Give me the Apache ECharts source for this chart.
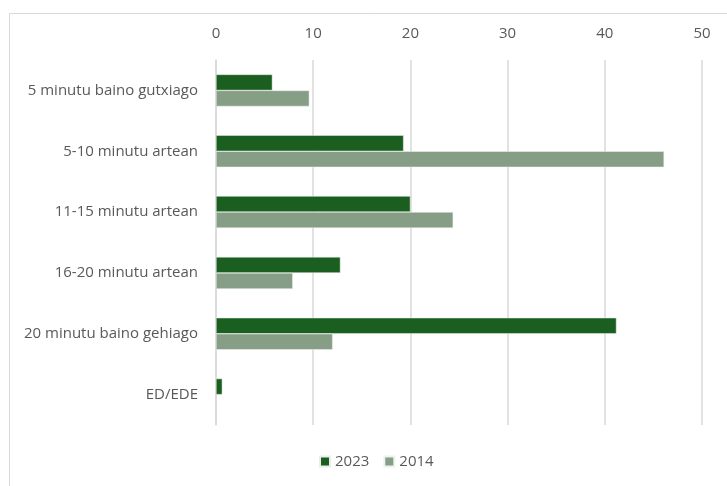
<!DOCTYPE html>
<html>
<head>
<meta charset="utf-8">
<script src="https://cdn.jsdelivr.net/npm/echarts@6/dist/echarts.min.js"></script>
<style>
  html, body { margin: 0; padding: 0; background: #fff; }
  #chart { width: 727px; height: 486px; }
</style>
</head>
<body>
<div id="chart"></div>
<script>
// Travel time categories (top to bottom)
const categories = [
  '5 minutu baino gutxiago',
  '5-10 minutu artean',
  '11-15 minutu artean',
  '16-20 minutu artean',
  '20 minutu baino gehiago',
  'ED/EDE'
];
// Percentages per year
const values2023 = [5.8, 19.3, 20.0, 12.8, 41.2, 0.65];
const values2014 = [9.6, 46.1, 24.4, 7.9, 12.0, null];
const seriesNames = ['2023', '2014'];

const textColor = '#595959';
const fontFamily = '"Open Sans", "Noto Sans", sans-serif';
const fontSize = 15;

const chart = echarts.init(document.getElementById('chart'), null, { renderer: 'canvas' });
chart.setOption({
  animation: false,
  backgroundColor: '#ffffff',
  textStyle: { fontFamily: fontFamily },
  graphic: [{
    type: 'rect',
    shape: { x: 9.5, y: 13.5, width: 760, height: 520 },
    style: { fill: 'none', stroke: '#d9d9d9', lineWidth: 1 },
    silent: true,
    z: -1
  }],
  legend: {
    data: seriesNames,
    bottom: 12,
    left: 314,
    itemWidth: 10,
    itemHeight: 10,
    itemGap: 14,
    icon: 'rect',
    textStyle: { color: textColor, fontSize: fontSize, fontFamily: fontFamily }
  },
  grid: { left: 216, right: 25, top: 60, bottom: 61, containLabel: false },
  xAxis: {
    type: 'value',
    position: 'top',
    min: 0,
    max: 50,
    interval: 10,
    axisLine: { show: false },
    axisTick: { show: false },
    axisLabel: { color: textColor, fontSize: fontSize, margin: 19, fontFamily: fontFamily },
    splitLine: { show: true, lineStyle: { color: '#d9d9d9', width: 1.5 } }
  },
  yAxis: {
    type: 'category',
    data: categories,
    inverse: true,
    axisLine: { show: true, lineStyle: { color: '#d9d9d9', width: 1.5 } },
    axisTick: { show: false },
    axisLabel: { color: textColor, fontSize: fontSize, margin: 18, fontFamily: fontFamily }
  },
  series: [
    {
      name: seriesNames[0],
      type: 'bar',
      data: values2023,
      barWidth: 16,
      barGap: '0%',
      itemStyle: { color: '#1a5e20', borderColor: '#e8efe8', borderWidth: 0.5 }
    },
    {
      name: seriesNames[1],
      type: 'bar',
      data: values2014,
      barWidth: 16,
      barGap: '0%',
      itemStyle: { color: '#879e86', borderColor: '#eef2ee', borderWidth: 0.5 }
    }
  ]
});
</script>
</body>
</html>
